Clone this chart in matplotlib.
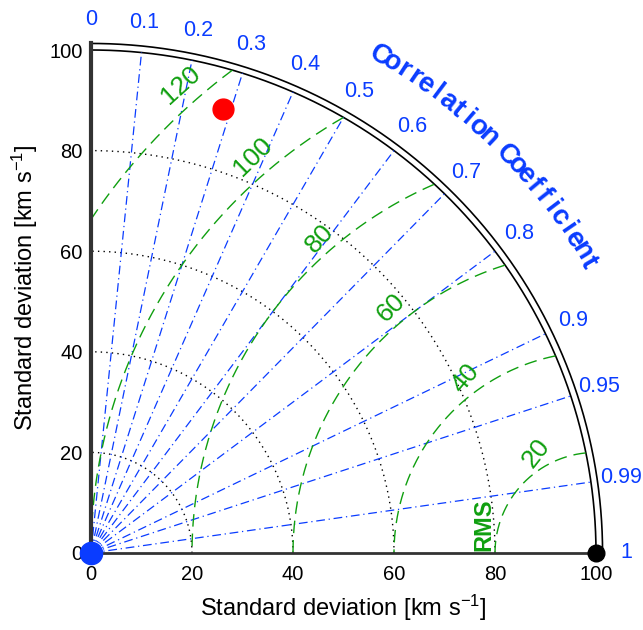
import numpy as np
import matplotlib
matplotlib.use('Agg')
import matplotlib.pyplot as plt

plt.rcParams['font.family'] = ['Liberation Sans', 'DejaVu Sans']
plt.rcParams['mathtext.fontset'] = 'custom'
plt.rcParams['mathtext.rm'] = 'Liberation Sans'
plt.rcParams['mathtext.it'] = 'Liberation Sans:italic'

# data
ref_std = 100.0
model_std = [92.0, 0.0]
model_corr = [0.284, 1.0]
model_colors = ['red', '#0a3cff']
std_ticks = [0, 20, 40, 60, 80, 100]
std_arcs = [20, 40, 60, 80]
corr_lines = [0.1, 0.2, 0.3, 0.4, 0.5, 0.6, 0.7, 0.8, 0.9, 0.95, 0.99]
corr_labels = [0, 0.1, 0.2, 0.3, 0.4, 0.5, 0.6, 0.7, 0.8, 0.9, 0.95, 0.99, 1]
rms_levels = [20, 40, 60, 80, 100, 120]
# label positions (x, y) and rotation
rms_label_xy = [(88.2, 19.9), (74.1, 34.8), (59.5, 48.8), (45.3, 62.6), (32.0, 78.8), (17.8, 93.0)]
rms_label_rot = [52, 50, 45, 47, 44, 42]

blue = '#0a3cff'
green = '#0f9f0f'

fig = plt.figure(figsize=(6.43, 6.30), dpi=100)
ax = fig.add_axes([91/643, 77/630, 110*5.05/643, 110*5.03/630])
ax.set_xlim(0, 110)
ax.set_ylim(0, 110)

# spines as the axes
for s in ['top', 'right']:
    ax.spines[s].set_visible(False)
ax.spines['left'].set_bounds(0, 101.3)
ax.spines['bottom'].set_bounds(0, 100)
ax.spines['left'].set_linewidth(3)
ax.spines['bottom'].set_linewidth(2)
ax.spines['left'].set_color('#333333')
ax.spines['bottom'].set_color('#333333')
ax.set_xticks(std_ticks)
ax.set_yticks(std_ticks)
ax.tick_params(axis='x', length=0, pad=9, labelsize=14.5)
ax.tick_params(axis='y', length=0, pad=6, labelsize=14.5)

# outer arcs
th = np.linspace(0, np.pi/2, 300)
ax.plot(ref_std*np.cos(th), ref_std*np.sin(th), color='black', lw=1.2, clip_on=False)
ax.plot(101.3*np.cos(th), 101.3*np.sin(th), color='black', lw=1.2, clip_on=False)

# std dotted arcs
for r in std_arcs:
    ax.plot(r*np.cos(th), r*np.sin(th), color='black', ls=(0, (1, 3)), lw=1.0)

# correlation lines
for c in corr_lines:
    a = np.arccos(c)
    ax.plot([0, ref_std*np.cos(a)], [0, ref_std*np.sin(a)], color=blue,
            ls=(0, (7, 3, 1, 3)), lw=0.9)

for c in corr_labels:
    a = np.arccos(c)
    ax.text(106*np.cos(a), 106*np.sin(a), str(c), color=blue, fontsize=15.5,
            ha='center', va='center', clip_on=False)

# RMS contours around the reference point
for r in rms_levels:
    phi = np.linspace(0, np.pi, 2000)
    x = ref_std + r*np.cos(phi)
    y = r*np.sin(phi)
    keep = (x**2 + y**2 <= ref_std**2) & (x >= 0)
    ax.plot(np.where(keep, x, np.nan), np.where(keep, y, np.nan), color=green,
            ls=(0, (9, 5)), lw=1.0)

for r, (lx, ly), rot in zip(rms_levels, rms_label_xy, rms_label_rot):
    ax.text(lx, ly, str(r), color=green, fontsize=19, rotation=rot,
            ha='center', va='center', rotation_mode='anchor')
ax.text(77.7, 5.6, 'RMS', color=green, fontsize=17, fontweight='bold', rotation=90,
        ha='center', va='center')

# curved title
title = 'Correlation Coefficient'
for i, ch in enumerate(title):
    ang = np.deg2rad(59.9 - i*1.34)
    ax.text(114.2*np.cos(ang), 114.2*np.sin(ang), ch, color=blue, fontsize=20,
            fontweight='bold', rotation=np.rad2deg(ang) - 90, ha='center', va='center',
            rotation_mode='anchor', clip_on=False)

# points
ax.plot(ref_std, 0, 'o', color='black', ms=12, clip_on=False, zorder=5)
for s, c, col, ms in zip(model_std, model_corr, model_colors, [15, 16]):
    a = np.arccos(c)
    ax.plot(s*np.cos(a), s*np.sin(a), 'o', color=col, ms=ms, clip_on=False, zorder=5)

fig.text(343/643, 1 - 608/630, 'Standard deviation [km s$^{-1}$]', fontsize=17,
         ha='center', va='center')
fig.text(25/643, 1 - 288/630, 'Standard deviation [km s$^{-1}$]', fontsize=17,
         ha='center', va='center', rotation=90)

fig.savefig('out.png', dpi=100)
